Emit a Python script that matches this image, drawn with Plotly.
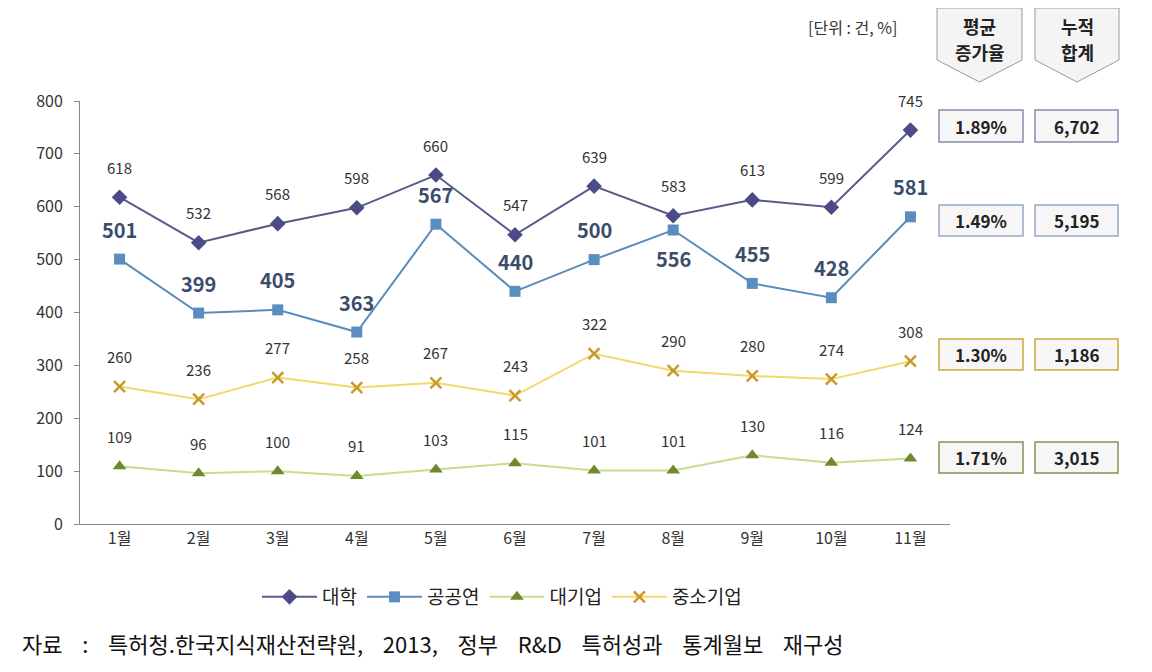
import plotly.graph_objects as go

months = ["1월", "2월", "3월", "4월", "5월", "6월", "7월", "8월", "9월", "10월", "11월"]
univ = [618, 532, 568, 598, 660, 547, 639, 583, 613, 599, 745]
public = [501, 399, 405, 363, 567, 440, 500, 556, 455, 428, 581]
large = [109, 96, 100, 91, 103, 115, 101, 101, 130, 116, 124]
sme = [260, 236, 277, 258, 267, 243, 322, 290, 280, 274, 308]

growth = ["1.89%", "1.49%", "1.30%", "1.71%"]
totals = ["6,702", "5,195", "1,186", "3,015"]

OFF = 8  # page body margin
W, H = 1152 - OFF, 672 - OFF
FONT = "Noto Sans CJK KR"

def px(x):
    return (x - OFF) / W

def py(y):
    return 1 - (y - OFF) / H

fig = go.Figure()

fig.add_trace(go.Scatter(
    x=months, y=univ, name="대학", mode="lines+markers",
    line=dict(color="#5A5A8C", width=2),
    marker=dict(symbol="diamond", size=12, color="#4B4B86"),
))
fig.add_trace(go.Scatter(
    x=months, y=public, name="공공연", mode="lines+markers",
    line=dict(color="#5B8CBA", width=2),
    marker=dict(symbol="square", size=11, color="#5B8EC0"),
))
fig.add_trace(go.Scatter(
    x=months, y=large, name="대기업", mode="lines+markers",
    line=dict(color="#C9DD8F", width=2),
    marker=dict(symbol="triangle-up", size=12, color="#6F8A2E"),
))
fig.add_trace(go.Scatter(
    x=months, y=sme, name="중소기업", mode="lines+markers",
    line=dict(color="#F3D86A", width=2),
    marker=dict(symbol="x-thin", size=11, color="#C89A2A", line=dict(color="#C89A2A", width=2.5)),
))

shapes = []
annotations = []

# data labels
for series, size, color, bold in [(univ, 15, "#333333", False), (large, 15, "#333333", False),
                                  (sme, 15, "#333333", False), (public, 20, "#3B4D6B", True)]:
    for i, v in enumerate(series):
        shift = 30
        if series is public and i == 7:
            shift = -28
        t = str(v)
        if bold:
            t = "<b>" + t + "</b>"
        annotations.append(dict(x=months[i], y=v, xref="x", yref="y", text=t, showarrow=False,
                                yshift=shift, xanchor="center", yanchor="middle",
                                font=dict(size=size, color=color, family=FONT)))

# header pentagons
for (x0, x1, l1, l2) in [(937, 1022, "평균", "증가율"), (1035, 1119, "누적", "합계")]:
    xm = (x0 + x1) / 2
    path = "M {a},{b} L {c},{b} L {c},{d} L {e},{f} L {a},{d} Z".format(
        a=px(x0), b=py(8), c=px(x1), d=py(60), e=px(xm), f=py(82))
    shapes.append(dict(type="path", path=path, xref="paper", yref="paper",
                       line=dict(color="#9A9A9A", width=1), fillcolor="#F4F4F4"))
    for (yy, tt) in [(26, l1), (52, l2)]:
        annotations.append(dict(x=px(xm), y=py(yy), xref="paper", yref="paper", text="<b>" + tt + "</b>",
                                showarrow=False, font=dict(size=18, color="#222222", family=FONT),
                                xanchor="center", yanchor="middle"))

annotations.append(dict(x=px(852), y=py(27), xref="paper", yref="paper", text="[단위 : 건, %]",
                        showarrow=False, font=dict(size=16, color="#333333", family=FONT),
                        xanchor="center", yanchor="middle"))

rows = [(110, 142, "#8A8AAA"), (205, 236, "#95A9C2"), (339, 370, "#C9A93A"), (442, 473, "#8E8E55")]
for i, (y0, y1, col) in enumerate(rows):
    for (x0, x1, txt) in [(939, 1023, growth[i]), (1035, 1118, totals[i])]:
        shapes.append(dict(type="rect", xref="paper", yref="paper",
                           x0=px(x0), x1=px(x1), y0=py(y1), y1=py(y0),
                           line=dict(color=col, width=1.5), fillcolor="#F6F6F6"))
        annotations.append(dict(x=px((x0 + x1) / 2), y=py((y0 + y1) / 2), xref="paper", yref="paper",
                                text="<b>" + txt + "</b>", showarrow=False,
                                font=dict(size=17, color="#222222", family=FONT),
                                xanchor="center", yanchor="middle"))

G = "\u00a0" * 4
footer = G.join(["자료", ":", "특허청.한국지식재산전략원,", "2013,", "정부", "R&D", "특허성과", "통계월보", "재구성"])
annotations.append(dict(x=px(20), y=py(643), xref="paper", yref="paper",
                        text=footer,
                        showarrow=False, font=dict(size=22, color="#111111", family=FONT),
                        xanchor="left", yanchor="middle"))

fig.update_layout(
    width=W, height=H,
    margin=dict(l=0, r=0, t=0, b=0),
    paper_bgcolor="white", plot_bgcolor="white",
    font=dict(family=FONT, size=15, color="#404040"),
    xaxis=dict(domain=[px(80), px(950)], showgrid=False, showline=True, linecolor="#888888",
               ticks="", tickfont=dict(size=16, color="#333333"), range=[-0.5, 10.5],
               automargin=False),
    yaxis=dict(domain=[py(524), py(101)], range=[0, 800], dtick=100, showgrid=False,
               showline=True, linecolor="#888888", ticks="outside", ticklen=5, tickcolor="#888888",
               tickfont=dict(size=16, color="#333333"), zeroline=False, automargin=False,
               ticklabelstandoff=8),
    legend=dict(orientation="h", x=px(502), y=py(597), xanchor="center", yanchor="middle",
                font=dict(size=19, color="#222222", family=FONT), itemwidth=55),
    showlegend=True,
    shapes=shapes, annotations=annotations,
)

fig.write_html("out.html")
